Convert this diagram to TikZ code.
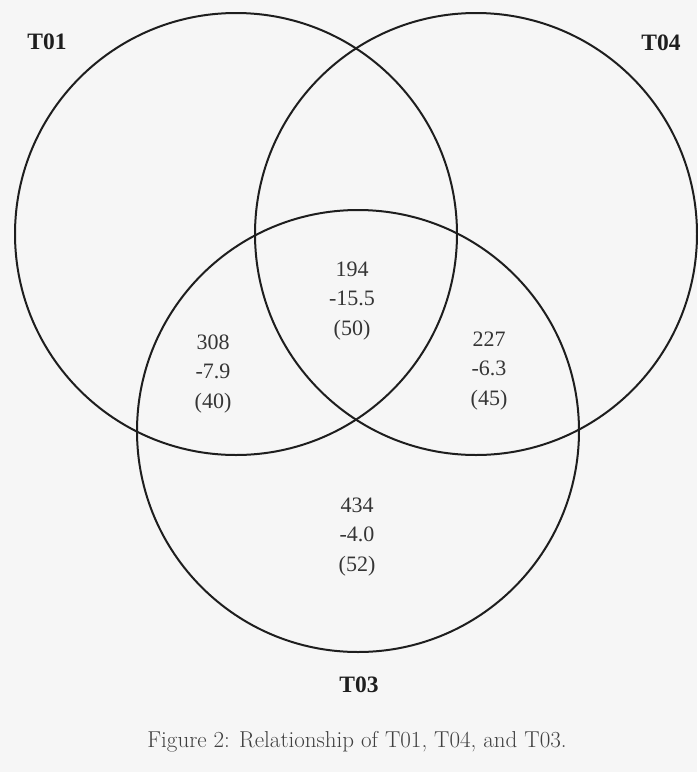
\documentclass[tikz,border=0pt]{standalone}
\usepackage{fontspec}
\newfontfamily\numfont{Liberation Serif}
\definecolor{bgcol}{RGB}{246,246,246}
\definecolor{inkcol}{RGB}{30,30,30}
\begin{document}
\begin{tikzpicture}[x=1pt,y=-1pt,
  setcircle/.style={circle,draw=inkcol,line width=2pt,minimum size=442pt,inner sep=0pt},
  setlabel/.style={font=\numfont\bfseries\fontsize{23.5}{26}\selectfont,text=inkcol},
  region/.style={font=\numfont\fontsize{22}{29.5}\selectfont,align=center,text=inkcol!90},
  captionstyle/.style={font=\fontsize{23}{26}\selectfont,text=inkcol!85}]
\fill[bgcol] (0,0) rectangle (697,772);
\useasboundingbox (0,0) rectangle (697,772);
\node[setcircle] (c1) at (236,234) {};
\node[setcircle] (c4) at (476,234) {};
\node[setcircle] (c3) at (358,431) {};
\node[setlabel] (l1) at (47,42) {T01};
\node[setlabel] (l4) at (661,43) {T04};
\node[setlabel] (l3) at (359,685) {T03};
\node[region] (r14) at (352,301) {194\\-15.5\\(50)};
\node[region] (r13) at (213,374) {308\\-7.9\\(40)};
\node[region] (r43) at (489,371) {227\\-6.3\\(45)};
\node[region] (r3) at (357,537) {434\\-4.0\\(52)};
\node[captionstyle] (cap) at (357,742) {Figure 2: Relationship of T01, T04, and T03.};
\end{tikzpicture}
\end{document}
